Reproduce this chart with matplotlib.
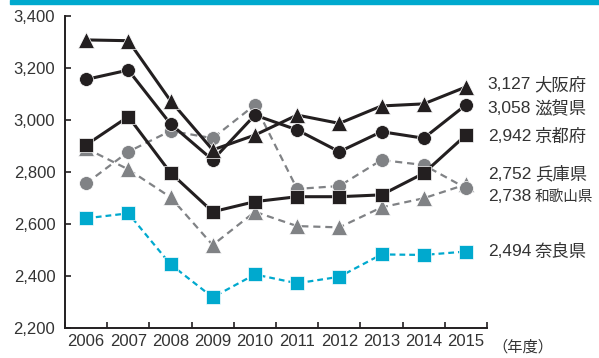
import matplotlib

matplotlib.use("Agg")
import matplotlib.pyplot as plt
from matplotlib import font_manager

years = ["2006", "2007", "2008", "2009", "2010", "2011", "2012", "2013", "2014", "2015"]

osaka = [3308, 3305, 3074, 2885, 2942, 3019, 2987, 3054, 3062, 3127]
shiga = [3156, 3192, 2985, 2846, 3019, 2962, 2878, 2955, 2930, 3058]
kyoto = [2904, 3013, 2797, 2647, 2686, 2705, 2705, 2712, 2795, 2942]
hyogo = [2891, 2810, 2703, 2519, 2647, 2592, 2587, 2664, 2699, 2752]
wakayama = [2756, 2878, 2958, 2930, 3058, 2735, 2746, 2846, 2827, 2738]
nara = [2622, 2641, 2445, 2318, 2406, 2372, 2397, 2483, 2481, 2494]

# (value text, prefecture, y position, size of the prefecture name)
end_labels = [
    ("3,127", "大阪府", 3135, 12.5),
    ("3,058", "滋賀県", 3046, 12.5),
    ("2,942", "京都府", 2936, 12.5),
    ("2,752", "兵庫県", 2792, 12.5),
    ("2,738", "和歌山県", 2705, 10.5),
    ("2,494", "奈良県", 2494, 12.5),
]

yticks = [2200, 2400, 2600, 2800, 3000, 3200, 3400]

names = [f.name for f in font_manager.fontManager.ttflist]
base = "Liberation Sans Narrow" if "Liberation Sans Narrow" in names else "Liberation Sans"
plt.rcParams["font.family"] = [base, "Noto Sans CJK JP", "DejaVu Sans"]

BLACK = "#231f20"
GRAY = "#808285"
CYAN = "#00a9ce"
TEXT = "#333333"

fig = plt.figure(figsize=(5.99, 3.58), dpi=100)
ax = fig.add_axes([65 / 599, 1 - 328 / 358, (487 - 65) / 599, (328 - 16) / 358])

# cyan strip along the top
fig.patches.append(plt.Rectangle((10 / 599, 1 - 4 / 358), 1, 4 / 358,
                                 transform=fig.transFigure, color=CYAN, zorder=0))

x = list(range(len(years)))
dash_gray = (0, (3.2, 2.2))
dash_cyan = (0, (2.6, 1.8))

ax.plot(x, nara, color=CYAN, lw=1.6, ls=dash_cyan, marker="s", ms=9.5,
        mfc=CYAN, mec="white", mew=0.5, zorder=3)
ax.plot(x, hyogo, color=GRAY, lw=1.6, ls=dash_gray, marker="^", ms=11.5,
        mfc=GRAY, mec="white", mew=0.5, zorder=3)
ax.plot(x, wakayama, color=GRAY, lw=1.6, ls=dash_gray, marker="o", ms=10,
        mfc=GRAY, mec="white", mew=0.5, zorder=3)
ax.plot(x, kyoto, color=BLACK, lw=2.2, marker="s", ms=9.5,
        mfc=BLACK, mec="white", mew=0.5, zorder=4)
ax.plot(x, shiga, color=BLACK, lw=2.2, marker="o", ms=10,
        mfc=BLACK, mec="white", mew=0.5, zorder=4)
ax.plot(x, osaka, color=BLACK, lw=2.2, marker="^", ms=11.5,
        mfc=BLACK, mec="white", mew=0.5, zorder=5)

for num, pref, yv, fs in end_labels:
    t = ax.text(9.5 + 0.02, yv, num, fontsize=12.5, color=TEXT, va="center", ha="left",
                clip_on=False)
    ax.annotate(pref, xy=(1, 0.5), xycoords=t, xytext=(2.5, 0), textcoords="offset points",
                fontsize=fs, color=TEXT, va="center", ha="left")

ax.set_xlim(-0.5, 9.5)
ax.set_ylim(2200, 3400)
ax.set_yticks(yticks)
ax.set_yticklabels([f"{v:,}" for v in yticks], fontsize=12, color=TEXT)
ax.set_xticks(x)
ax.set_xticklabels(years, fontsize=12, color=TEXT)
ax.set_xticks([i - 0.5 for i in range(len(years) + 1)], minor=True)
ax.tick_params(axis="x", which="major", length=0, pad=4)
ax.tick_params(axis="x", which="minor", direction="in", length=4, width=1.2, color=BLACK)
ax.tick_params(axis="y", direction="in", length=4, width=1.2, color=BLACK, pad=7)

for side in ["top", "right"]:
    ax.spines[side].set_visible(False)
for side in ["left", "bottom"]:
    ax.spines[side].set_color(BLACK)
    ax.spines[side].set_linewidth(1.4)

fig.text(492 / 599, 1 - 347 / 358, "（年度）", fontsize=11, color=TEXT, va="center", ha="left")

fig.savefig("out.png", dpi=100)
